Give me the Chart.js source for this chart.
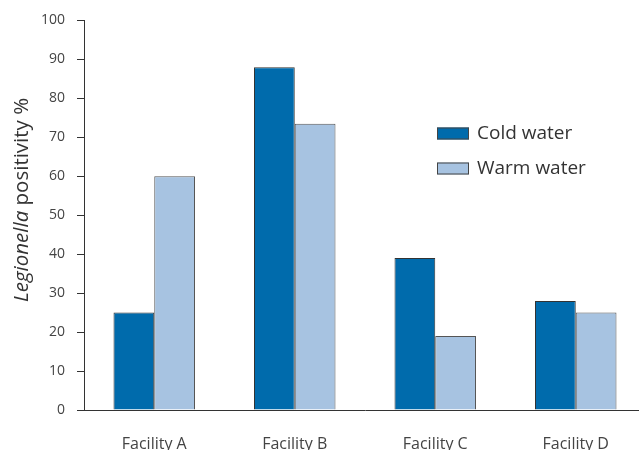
<!DOCTYPE html>
<html>
<head>
<meta charset="utf-8">
<script src="https://cdn.jsdelivr.net/npm/chart.js@4"></script>
<style>
  html, body { margin: 0; padding: 0; background: #fff; overflow: hidden; }
  #wrap { width: 646px; height: 450px; }
</style>
</head>
<body>
<div id="wrap"><canvas id="chart"></canvas></div>
<script>
const facilities = ['Facility A', 'Facility B', 'Facility C', 'Facility D'];
const coldWater = [25, 88, 39, 28];
const warmWater = [60, 73.5, 19, 25];
const yTicks = [0, 10, 20, 30, 40, 50, 60, 70, 80, 90, 100];

const fontFamily = '"Open Sans", Lato, sans-serif';

// legend and y title drawn by hand: the legend sits inside the plot, the title mixes italic and plain
const extras = {
    id: 'extras',
    afterDraw(chart) {
        const ctx = chart.ctx;
        ctx.save();
        const lx = 437, ly = [133.5, 168.5];
        chart.data.datasets.forEach((ds, i) => {
            ctx.fillStyle = ds.backgroundColor;
            ctx.strokeStyle = '#444';
            ctx.lineWidth = 1;
            ctx.fillRect(lx, ly[i] - 6, 32, 12);
            ctx.strokeRect(lx + 0.5, ly[i] - 5.5, 31, 11);
            ctx.fillStyle = '#333';
            ctx.font = '19px ' + fontFamily;
            ctx.textBaseline = 'middle';
            ctx.fillText(ds.label, lx + 40, ly[i]);
        });

        ctx.translate(22, 200);
        ctx.rotate(-Math.PI / 2);
        ctx.textBaseline = 'middle';
        const a = 'Legionella';
        const b = ' positivity %';
        const size = '20.5px ';
        ctx.font = 'italic ' + size + fontFamily;
        const wa = ctx.measureText(a).width;
        ctx.font = size + fontFamily;
        const wb = ctx.measureText(b).width;
        const x = -(wa + wb) / 2;
        ctx.fillStyle = '#333';
        ctx.font = 'italic ' + size + fontFamily;
        ctx.fillText(a, x, 0);
        ctx.font = size + fontFamily;
        ctx.fillText(b, x + wa, 0);
        ctx.restore();
    }
};

new Chart(document.getElementById('chart'), {
    type: 'bar',
    data: {
        labels: facilities,
        datasets: [{
            label: 'Cold water',
            data: coldWater,
            backgroundColor: '#006bac',
            borderColor: '#333',
            borderWidth: 1
        }, {
            label: 'Warm water',
            data: warmWater,
            backgroundColor: '#a7c3e1',
            borderColor: '#555',
            borderWidth: 1
        }]
    },
    options: {
        responsive: true,
        maintainAspectRatio: false,
        animation: false,
        layout: { padding: { top: 16, right: 0, left: 0, bottom: 0 } },
        datasets: { bar: { categoryPercentage: 0.58, barPercentage: 1 } },
        plugins: {
            legend: { display: false },
            tooltip: { enabled: false }
        },
        scales: {
            x: {
                grid: { display: false },
                border: { color: '#333', width: 1 },
                ticks: {
                    color: '#444',
                    padding: 17,
                    font: { family: fontFamily, size: 16 }
                },
                afterFit(scale) { scale.height = 40; }
            },
            y: {
                min: 0,
                max: 100,
                afterBuildTicks(scale) { scale.ticks = yTicks.map(v => ({ value: v })); },
                grid: { drawOnChartArea: false, tickLength: 7, color: '#333' },
                border: { color: '#333', width: 1 },
                ticks: {
                    color: '#444',
                    padding: 12,
                    font: { family: fontFamily, size: 14 }
                },
                afterFit(scale) { scale.width = 84; }
            }
        }
    },
    plugins: [extras]
});
</script>
</body>
</html>
